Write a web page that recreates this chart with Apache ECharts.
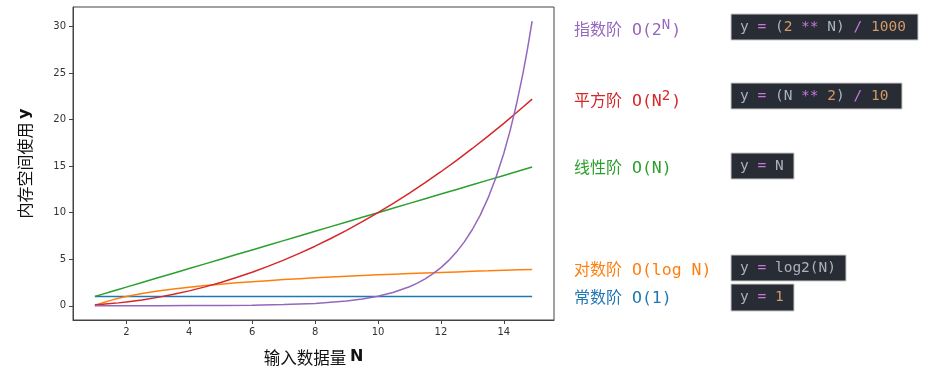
<!DOCTYPE html>
<html><head><meta charset="utf-8">
<script src="https://cdn.jsdelivr.net/npm/echarts@6/dist/echarts.min.js"></script>
<style>html,body{margin:0;padding:0;background:#fff}#c{width:927px;height:372px}</style>
</head><body><div id="c"></div>
<script>
const N = [1,1.25,1.5,1.75,2,2.5,3,3.5,4,4.5,5,5.5,6,6.5,7,7.5,8,8.5,9,9.5,10,10.5,11,11.5,12,12.5,13,13.5,14,14.5,14.9];
const constY = [1,1,1,1,1,1,1,1,1,1,1,1,1,1,1,1,1,1,1,1,1,1,1,1,1,1,1,1,1,1,1];
const logY = [0,0.32,0.58,0.81,1,1.32,1.58,1.81,2,2.17,2.32,2.46,2.58,2.70,2.81,2.91,3,3.09,3.17,3.25,3.32,3.39,3.46,3.52,3.58,3.64,3.70,3.75,3.81,3.86,3.90];
const linY = [1,1.25,1.5,1.75,2,2.5,3,3.5,4,4.5,5,5.5,6,6.5,7,7.5,8,8.5,9,9.5,10,10.5,11,11.5,12,12.5,13,13.5,14,14.5,14.9];
const quadY = [0.1,0.16,0.23,0.31,0.4,0.63,0.9,1.23,1.6,2.03,2.5,3.03,3.6,4.23,4.9,5.63,6.4,7.23,8.1,9.03,10,11.03,12.1,13.23,14.4,15.63,16.9,18.23,19.6,21.03,22.2];
const expN = [1,2,3,4,5,6,7,8,9,9.5,10,10.5,11,11.25,11.5,11.75,12,12.25,12.5,12.75,13,13.25,13.5,13.75,14,14.2,14.4,14.6,14.75,14.9];
const expY = [0.002,0.004,0.008,0.016,0.032,0.064,0.128,0.256,0.512,0.724,1.024,1.448,2.048,2.435,2.896,3.444,4.096,4.871,5.793,6.889,8.192,9.742,11.585,13.777,16.384,18.82,21.619,24.834,27.554,30.574];
const xTicks = [2,4,6,8,10,12,14];
const yTicks = [0,5,10,15,20,25,30];

const C = {blue:'#1f77b4', orange:'#ff7f0e', green:'#2ca02c', red:'#d62728', purple:'#9467bd'};
const pair = (xs,ys) => xs.map((x,i)=>[x,ys[i]]);
const mk = (xs,ys,color) => ({type:'line', data:pair(xs,ys), showSymbol:false, symbol:'none',
  lineStyle:{color, width:1.5}, itemStyle:{color}, animation:false, z:2});

const mono = '"DejaVu Sans Mono", monospace';
const cjk = '"Noto Sans CJK SC", sans-serif';

function label(y, color, cjkTxt, latin, sup, tail){
  const els = [];
  els.push({type:'text', style:{x:574, y:y-0.5, text:cjkTxt, font:'16px '+cjk, fill:color, verticalAlign:'middle'}});
  els.push({type:'text', style:{x:632, y:y+1.5, text:latin, font:'16.5px '+mono, fill:color, verticalAlign:'middle'}});
  if (sup) {
    const x2 = 632 + latin.length*9.93;
    els.push({type:'text', style:{x:x2, y:y-4, text:sup, font:'14px '+mono, fill:color, verticalAlign:'middle'}});
    els.push({type:'text', style:{x:x2+9.5, y:y+1.5, text:tail, font:'16.5px '+mono, fill:color, verticalAlign:'middle'}});
  }
  return els;
}
const codeRich = {
  g:{fill:'#abb2bf', fontFamily:mono, fontSize:14.5},
  p:{fill:'#c678dd', fontFamily:mono, fontSize:14.5},
  o:{fill:'#d19a66', fontFamily:mono, fontSize:14.5}
};
function code(x1,y1,x2,y2,txt){
  return [
    {type:'rect', shape:{x:x1,y:y1,width:x2-x1,height:y2-y1}, style:{fill:'#282c34', stroke:'#c8c8c8', lineWidth:1}},
    {type:'text', style:{x:x1+9, y:(y1+y2)/2, text:txt, rich:codeRich, verticalAlign:'middle'}}
  ];
}

const graphic = [].concat(
  label(29, C.purple, '指数阶', 'O(2', 'N', ')'),
  label(100, C.red, '平方阶', 'O(N', '2', ')'),
  label(167, C.green, '线性阶', 'O(N)'),
  label(269, C.orange, '对数阶', 'O(log N)'),
  label(297, C.blue, '常数阶', 'O(1)'),
  code(731,14,918,40,'{g|y }{p|=}{g| (}{o|2}{g| }{p|**}{g| N) }{p|/}{g| }{o|1000}'),
  code(731,83,902,109,'{g|y }{p|=}{g| (N }{p|**}{g| }{o|2}{g|) }{p|/}{g| }{o|10}'),
  code(731,153,794,179,'{g|y }{p|=}{g| N}'),
  code(731,255,846,281,'{g|y }{p|=}{g| log2(N)}'),
  code(731,284,794,311,'{g|y }{p|=}{g| }{o|1}')
);

const chart = echarts.init(document.getElementById('c'), null, {renderer:'canvas'});
chart.setOption({
  animation:false,
  backgroundColor:'#fff',
  grid:{left:73, right:373, top:7, bottom:52, show:true, borderColor:'#444', borderWidth:1, backgroundColor:'transparent'},
  xAxis:{type:'value', min:0.305, max:15.595,
    axisLine:{show:true, onZero:false, lineStyle:{color:'#444', width:1}},
    axisTick:{show:true, length:4, customValues:xTicks, lineStyle:{color:'#444'}},
    axisLabel:{customValues:xTicks, color:'#333', fontSize:10, fontFamily:'"DejaVu Sans", sans-serif', margin:7},
    splitLine:{show:false},
    name:'{a|输入数据量 }{b|N}', nameLocation:'middle', nameGap:29,
    nameTextStyle:{rich:{a:{fontFamily:cjk, fontSize:16.5, color:'#111'}, b:{fontFamily:'"DejaVu Sans", sans-serif', fontWeight:'bold', fontSize:16, color:'#111'}}}
  },
  yAxis:{type:'value', min:-1.53, max:32.1,
    axisLine:{show:true, onZero:false, lineStyle:{color:'#444', width:1}},
    axisTick:{show:true, length:4, customValues:yTicks, lineStyle:{color:'#444'}},
    axisLabel:{customValues:yTicks, color:'#333', fontSize:10, fontFamily:'"DejaVu Sans", sans-serif', margin:7},
    splitLine:{show:false},
    name:'{a|内存空间使用 }{b|y}', nameLocation:'middle', nameGap:40, nameRotate:90,
    nameTextStyle:{rich:{a:{fontFamily:cjk, fontSize:16, color:'#111'}, b:{fontFamily:'"DejaVu Sans", sans-serif', fontWeight:'bold', fontSize:16, color:'#111'}}}
  },
  series:[
    mk(N, constY, C.blue),
    mk(N, logY, C.orange),
    mk(N, linY, C.green),
    mk(N, quadY, C.red),
    mk(expN, expY, C.purple)
  ],
  graphic
});
</script></body></html>
